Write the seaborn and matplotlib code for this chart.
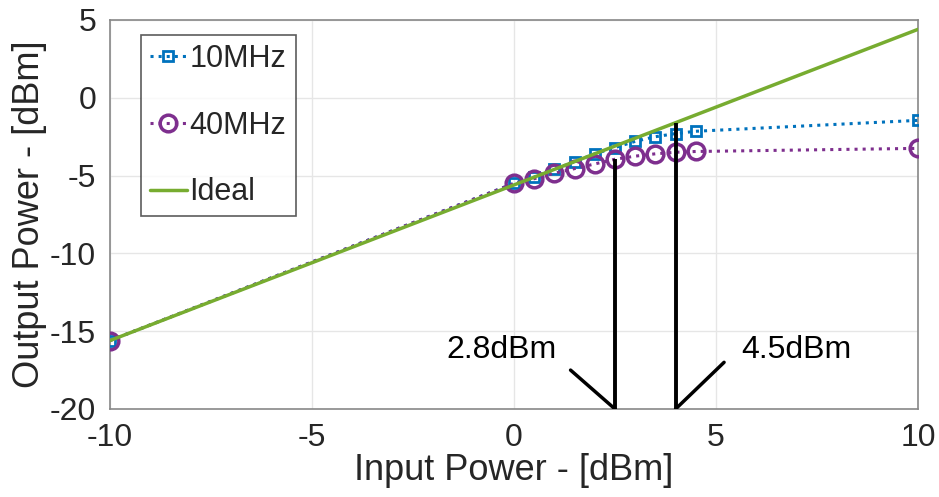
import matplotlib
matplotlib.use("Agg")
import matplotlib.pyplot as plt
import seaborn as sns
import numpy as np
import pandas as pd

# ---- data ----
x_meas = [-10, 0, 0.5, 1, 1.5, 2, 2.5, 3, 3.5, 4, 4.5, 10]
y_10mhz = [-15.6, -5.5, -5.1, -4.6, -4.1, -3.6, -3.2, -2.8, -2.5, -2.3, -2.15, -1.45]
y_40mhz = [-15.6, -5.5, -5.2, -4.85, -4.55, -4.25, -3.95, -3.75, -3.6, -3.5, -3.45, -3.25]
x_ideal = [-10, 10]
y_ideal = [-15.6, 4.4]

marker_x = [2.5, 4.0]
marker_top = [-3.95, -1.6]
labels_ann = ["2.8dBm", "4.5dBm"]
ann_text_x = [-0.3, 7.0]
ann_text_y = [-16.2, -16.2]
diag_left_x = [1.4, 2.5]
diag_left_y = [-17.5, -20]
diag_right_x = [4.0, 5.2]
diag_right_y = [-20, -17.0]

x_ticks = [-10, -5, 0, 5, 10]
y_ticks = [-20, -15, -10, -5, 0, 5]

sns.set_style("white")
plt.rcParams['font.family'] = ['Liberation Sans', 'DejaVu Sans']
plt.rcParams['axes.unicode_minus'] = False

fig = plt.figure(figsize=(9.39, 4.97), dpi=100)
ax = fig.add_axes([110/939, 1-409/497, 808/939, 389/497])

c_blue = "#0072BD"
c_purple = "#7E2F8E"
c_green = "#77AC30"

df10 = pd.DataFrame({"x": x_meas, "y": y_10mhz})
df40 = pd.DataFrame({"x": x_meas, "y": y_40mhz})
dfi = pd.DataFrame({"x": x_ideal, "y": y_ideal})

sns.lineplot(data=df10, x="x", y="y", ax=ax, color=c_blue, linestyle=":", lw=2.2,
             marker="s", markersize=7, markerfacecolor="none", markeredgecolor=c_blue,
             markeredgewidth=2, label="10MHz", zorder=3)
sns.lineplot(data=df40, x="x", y="y", ax=ax, color=c_purple, linestyle=":", lw=2.2,
             marker="o", markersize=12, markerfacecolor="none", markeredgecolor=c_purple,
             markeredgewidth=2.5, label="40MHz", zorder=3)
sns.lineplot(data=dfi, x="x", y="y", ax=ax, color=c_green, lw=2.5, label="Ideal", zorder=4)

# annotation lines
for xm, yt in zip(marker_x, marker_top):
    ax.plot([xm, xm], [-20, yt], color="black", lw=2.8, zorder=5, solid_capstyle="butt")
ax.plot(diag_left_x, diag_left_y, color="black", lw=2.5, zorder=5)
ax.plot(diag_right_x, diag_right_y, color="black", lw=2.5, zorder=5)
for tx, ty, lab in zip(ann_text_x, ann_text_y, labels_ann):
    ax.text(tx, ty, lab, fontsize=23, ha="center", va="center", color="black")

ax.set_xlim(-10, 10)
ax.set_ylim(-20, 5)
ax.set_xticks(x_ticks)
ax.set_yticks(y_ticks)
ax.tick_params(axis="both", direction="in", length=5, width=1, color="#555555",
               labelsize=23, top=False, right=False)
ax.tick_params(axis="x", pad=10)
ax.tick_params(axis="y", pad=10)
ax.grid(True, color="#e6e6e6", lw=1)
for s in ax.spines.values():
    s.set_color("#888888")
    s.set_linewidth(1.2)

ax.set_xlabel("Input Power - [dBm]", fontsize=26, labelpad=0)
ax.set_ylabel("Output Power - [dBm]", fontsize=26, labelpad=2)

leg = ax.legend(loc="upper left", bbox_to_anchor=(0.038, 0.962), fontsize=22,
                frameon=True, fancybox=False, edgecolor="#333333", handlelength=1.2,
                handletextpad=0.1, borderpad=0.3, labelspacing=1.2, borderaxespad=0)
leg.get_frame().set_linewidth(1.2)

fig.savefig("out.png", dpi=100)
